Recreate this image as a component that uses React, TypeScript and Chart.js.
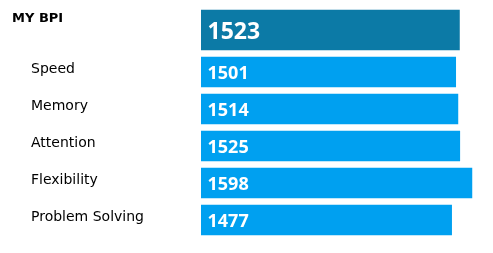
import React, { useEffect, useRef } from "react";
import { Chart, registerables } from "chart.js";
Chart.register(...registerables);

const overallLabel = ["MY BPI"];
const overallValue = [1523];
const categories = ["Speed", "Memory", "Attention", "Flexibility", "Problem Solving"];
const values = [1501, 1514, 1525, 1598, 1477];
const xMax = 1600;

const valueLabelPlugin = {
  id: "valueLabels",
  afterDatasetsDraw(chart: any, _args: any, opts: any) {
    const ctx = chart.ctx;
    ctx.save();
    ctx.fillStyle = "#ffffff";
    ctx.font = `bold ${opts.size}px "Open Sans"`;
    ctx.textBaseline = "alphabetic";
    ctx.textAlign = "left";
    chart.data.datasets.forEach((ds: any, di: number) => {
      const meta = chart.getDatasetMeta(di);
      meta.data.forEach((bar: any, i: number) => {
        ctx.fillText(String(ds.data[i]), bar.base + opts.pad, bar.y + opts.size * 0.357 + opts.dy);
      });
    });
    ctx.restore();
  },
};

function makeConfig(p: {
  labels: string[];
  data: number[];
  color: string;
  thickness: number;
  font: any;
  left: number;
  top: number;
  bottom: number;
  labelOffset: number;
  valueSize: number;
}): any {
  return {
    type: "bar",
    data: {
      labels: p.labels,
      datasets: [
        {
          data: p.data,
          backgroundColor: p.color,
          barThickness: p.thickness,
          borderWidth: 0,
        },
      ],
    },
    options: {
      indexAxis: "y",
      responsive: false,
      animation: false,
      layout: { padding: { left: p.left, right: 20.5, top: p.top, bottom: p.bottom } },
      plugins: {
        legend: { display: false },
        tooltip: { enabled: false },
        valueLabels: { size: p.valueSize, pad: 6.5, dy: 0.5 },
      },
      scales: {
        x: { display: false, min: 0, max: xMax },
        y: {
          grid: { display: false },
          border: { display: false },
          afterFit: (scale: any) => {
            scale.width = 201 - p.left;
            scale.paddingTop = 0;
            scale.paddingBottom = 0;
          },
          ticks: {
            crossAlign: "far",
            color: "#000000",
            font: p.font,
            labelOffset: p.labelOffset,
            padding: 0,
          },
        },
      },
    },
    plugins: [valueLabelPlugin],
  };
}

export default function App() {
  const topRef = useRef<HTMLCanvasElement>(null);
  const bottomRef = useRef<HTMLCanvasElement>(null);

  useEffect(() => {
    const top = new Chart(
      topRef.current!,
      makeConfig({
        labels: overallLabel,
        data: overallValue,
        color: "#0c7aa6",
        thickness: 40,
        font: { family: "'DejaVu Sans'", size: 13, weight: "bold" },
        left: 12,
        top: 7,
        bottom: 0,
        labelOffset: -11.5,
        valueSize: 23,
      })
    );
    const bottom = new Chart(
      bottomRef.current!,
      makeConfig({
        labels: categories,
        data: values,
        color: "#00a0f0",
        thickness: 30,
        font: { family: "'DejaVu Sans'", size: 14 },
        left: 31,
        top: 0.5,
        bottom: 14.5,
        labelOffset: -2.5,
        valueSize: 18,
      })
    );
    return () => {
      top.destroy();
      bottom.destroy();
    };
  }, []);

  return (
    <div style={{ position: "absolute", left: 0, top: 0, width: 493, height: 253, background: "#ffffff" }}>
      <canvas ref={topRef} width={493} height={53} style={{ display: "block" }} />
      <canvas ref={bottomRef} width={493} height={200} style={{ display: "block" }} />
    </div>
  );
}
